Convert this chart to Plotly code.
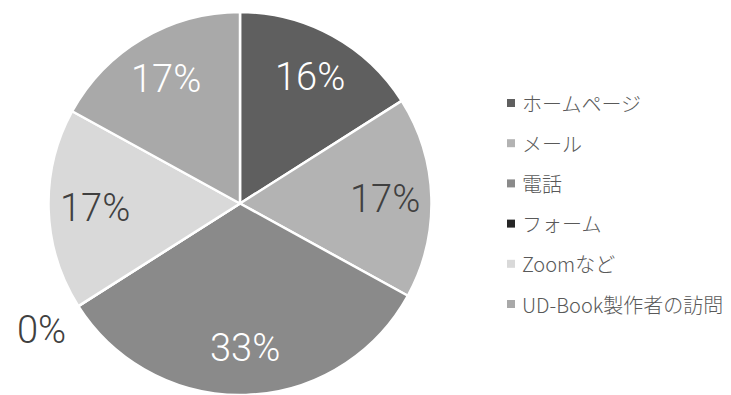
import math
import plotly.graph_objects as go

# Contact channels and their share (%)
categories = ["ホームページ", "メール", "電話", "フォーム", "Zoomなど", "UD-Book製作者の訪問"]
shares = [16, 17, 33, 0, 17, 17]

slice_colors = ["#5f5f5f", "#b3b3b3", "#8a8a8a", "#262626", "#d9d9d9", "#a9a9a9"]
label_colors = ["#ffffff", "#404040", "#ffffff", "#404040", "#404040", "#ffffff"]

W, H = 731, 395
cx, cy = 240.0, 203.5       # pie centre in pixels
r = 191.5                   # pie radius in pixels
CJK_FONT = "Noto Sans CJK JP"
NUM_FONT = "Roboto, Noto Sans CJK JP"

fig = go.Figure(go.Pie(
    labels=categories,
    values=shares,
    sort=False,
    direction="clockwise",
    rotation=0,
    marker=dict(colors=slice_colors, line=dict(color="#ffffff", width=2.5)),
    textinfo="none",
    hoverinfo="label+percent",
    showlegend=False,
    domain=dict(x=[(cx - r) / W, (cx + r) / W], y=[0, 1 - (cy - r) / H]),
))

def to_paper(px, py):
    return px / W, 1 - py / H

annotations = []
shapes = []

# Percentage labels placed at each slice's mid-angle
total = sum(shares)
start = 0.0
for val, col in zip(shares, label_colors):
    span = 360.0 * val / total
    mid = math.radians(start + span / 2)
    frac = 0.755 if val > 0 else 1.23
    px = cx + frac * r * math.sin(mid)
    py = cy - frac * r * math.cos(mid)
    x, y = to_paper(px, py)
    annotations.append(dict(
        x=x, y=y, xref="paper", yref="paper", showarrow=False,
        text=f"{val}%", xanchor="center", yanchor="middle",
        font=dict(family=NUM_FONT, size=38, color=col, weight=300),
    ))
    start += span

# Legend entries on the right
leg_x, leg_y0, leg_dy = 511, 103, 40.2
for i, (name, col) in enumerate(zip(categories, slice_colors)):
    py = leg_y0 + i * leg_dy
    x0, y0 = to_paper(leg_x - 4, py - 4)
    x1, y1 = to_paper(leg_x + 4, py + 4)
    shapes.append(dict(type="rect", xref="paper", yref="paper",
                       x0=x0, x1=x1, y0=y1, y1=y0,
                       fillcolor=col, line=dict(width=0)))
    tx, ty = to_paper(leg_x + 9, py)
    annotations.append(dict(
        x=tx, y=ty, xref="paper", yref="paper", showarrow=False,
        text=name, xanchor="left", yanchor="middle",
        font=dict(family=CJK_FONT, size=20, color="#595959", weight=300),
    ))

fig.update_layout(
    width=W, height=H,
    margin=dict(l=0, r=0, t=0, b=0),
    paper_bgcolor="#ffffff",
    plot_bgcolor="#ffffff",
    annotations=annotations,
    shapes=shapes,
)

fig.write_html("out.html")
